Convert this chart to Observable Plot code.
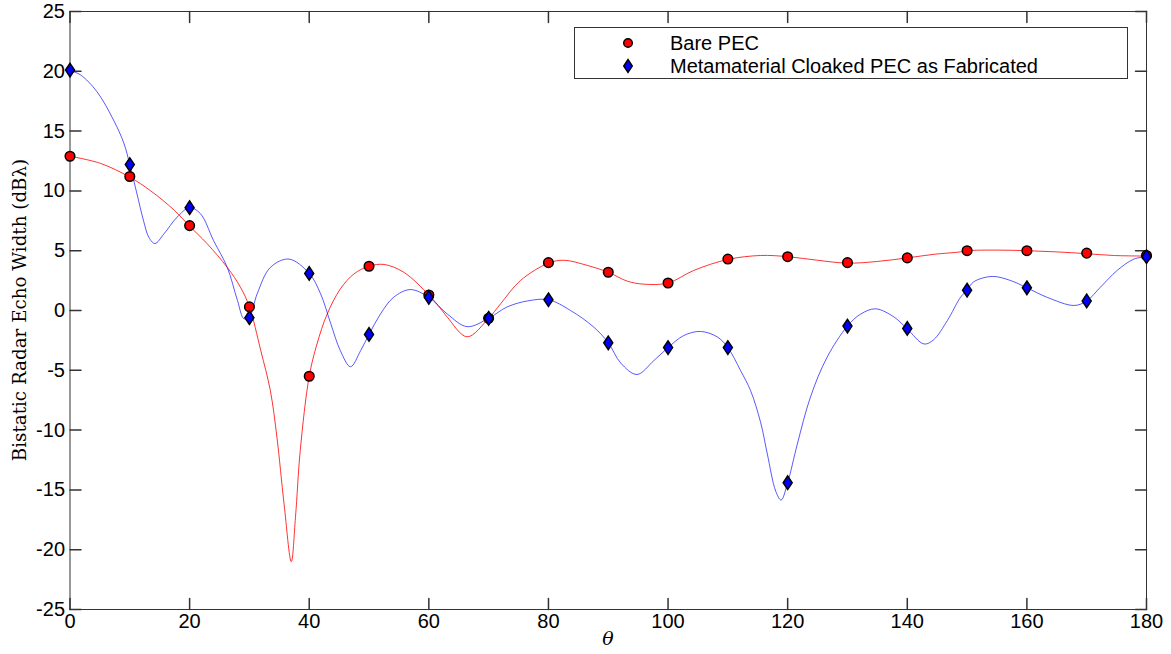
<!DOCTYPE html>
<html><head><meta charset="utf-8">
<script src="https://cdn.jsdelivr.net/npm/d3@7"></script>
<script src="https://cdn.jsdelivr.net/npm/@observablehq/plot@0.6"></script>
<style>
body{margin:0;background:#fff;}
#wrap{position:relative;width:1171px;height:654px;overflow:hidden;}
#ylab{position:absolute;left:19px;top:310px;transform:translate(-50%,-50%) rotate(-90deg);white-space:nowrap;font-family:"DejaVu Serif",serif;font-size:18.3px;color:#000;}
#xlab{position:absolute;left:608px;top:638px;transform:translate(-50%,-50%);font-family:"DejaVu Serif",serif;font-style:italic;font-size:19px;color:#000;}
#legend{position:absolute;left:574px;top:27px;width:552px;height:50px;border:1px solid #333;background:#fff;font-family:"Liberation Sans",Arial,sans-serif;font-size:20px;}
.row{position:absolute;left:0;height:22px;display:flex;align-items:center;}
.row svg{position:absolute;left:45px;}
.row span{position:absolute;left:95px;white-space:nowrap;line-height:22px;}
</style></head><body><div id="wrap"></div>
<script>
// Marker data (every 10 degrees)
const markerTheta = [0,10,20,30,40,50,60,70,80,90,100,110,120,130,140,150,160,170,180];
const bareMarkers = [12.9,11.2,7.1,0.3,-5.5,3.7,1.3,-0.65,4.0,3.2,2.3,4.3,4.5,4.0,4.4,5.0,5.0,4.8,4.6];
const cloakMarkers = [20.1,12.2,8.6,-0.6,3.1,-2.0,1.1,-0.65,0.9,-2.7,-3.1,-3.1,-14.4,-1.3,-1.5,1.7,1.9,0.8,4.5];

// Continuous curves
const bareCurveTheta = [0,5.1,10,13.5,17.4,20,22.9,26.3,28.5,30,31.9,33.5,34.6,35.8,37.0,37.7,38.5,40,41.3,43.0,45.2,47.5,50,52.5,55.8,60,62,63.1,66.4,70,72,75.3,80,82.6,86.5,90,93.2,96,100,104.3,110,115.5,120,125,130,135,140,144.5,148.9,150,155,160,165,170,174.5,180];
const bareCurveValue = [12.9,12.3,11.15,10.0,8.4,7.05,5.6,3.6,1.95,0.3,-3.35,-6.7,-10.6,-16.2,-21.0,-17.3,-11.7,-5.5,-2.8,-0.3,1.8,3.07,3.7,3.85,3.2,1.3,0.14,-0.56,-2.2,-0.65,0.56,2.5,3.96,4.2,3.77,3.2,2.45,2.2,2.3,3.35,4.27,4.6,4.5,4.2,3.96,4.1,4.4,4.7,4.9,5.0,5.05,5.0,4.9,4.75,4.6,4.55];

const cloakCurveTheta = [0,1.75,4.5,7.3,9.0,10,11.2,12.3,13.2,14.2,15.7,17.9,20,21.8,24.0,26.3,28.0,29.1,30,31.3,33.5,36.6,40,41.9,43.6,45.2,46.9,48.6,50,51.9,54.1,56.9,60,63.1,66.4,70,73.1,76.5,80,83.7,87.6,90,92.1,94.8,97.6,100,102.6,105.4,108.2,110,112.1,113.8,115.5,116.6,118.0,118.9,120,121.6,123.8,126.6,130,132.2,134.7,137.8,140,142.8,144.4,146.7,148.9,150,151.1,154.2,157.3,160,163.4,167.9,170,172.3,175.1,177.9,180];
const cloakCurveValue = [20.05,19.7,18.3,15.9,14.0,12.2,9.75,7.5,6.1,5.6,6.4,7.8,8.6,8.1,5.85,3.6,0.84,-0.7,-0.55,1.4,3.6,4.3,3.1,1.4,-1.1,-3.35,-4.7,-3.35,-2.0,-0.3,1.1,1.75,1.1,-0.3,-1.35,-0.65,0.3,0.8,0.9,0.0,-1.4,-2.7,-4.4,-5.35,-4.2,-3.1,-2.1,-1.75,-2.2,-3.1,-5.0,-6.7,-9.4,-12.0,-15.1,-15.85,-14.4,-11.2,-7.25,-3.9,-1.3,-0.3,0.14,-0.55,-1.55,-2.8,-2.45,-0.84,1.1,1.7,2.4,2.85,2.5,1.9,1.1,0.42,0.8,1.95,3.35,4.3,4.5];

const xTicks = [0,20,40,60,80,100,120,140,160,180];
const yTicks = [-25,-20,-15,-10,-5,0,5,10,15,20,25];
const seriesNames = ["Bare PEC","Metamaterial Cloaked PEC as Fabricated"];
const seriesColors = ["#ff0000","#0000ff"];
const yLabel = "Bistatic Radar Echo Width (dB\u03bb)";
const xLabel = "\u03b8";

const bareCurve = bareCurveTheta.map((t,i)=>({t, v: bareCurveValue[i]}));
const cloakCurve = cloakCurveTheta.map((t,i)=>({t, v: cloakCurveValue[i]}));
const bareDots = markerTheta.map((t,i)=>({t, v: bareMarkers[i]}));
const cloakDots = markerTheta.map((t,i)=>({t, v: cloakMarkers[i]}));

const tickShape = {draw(ctx, l){ ctx.moveTo(0,0); ctx.lineTo(0,-l); }};
const tallDiamond = {draw(ctx, size){ const r = Math.sqrt(size/Math.PI); ctx.moveTo(0,-1.35*r); ctx.lineTo(0.9*r,0); ctx.lineTo(0,1.35*r); ctx.lineTo(-0.9*r,0); ctx.closePath(); }};
const fmt = d => String(d);
const tickColor = "#333";

const chart = Plot.plot({
  width: 1171, height: 654,
  marginLeft: 69.5, marginRight: 25, marginTop: 11, marginBottom: 45,
  style: {fontFamily: "'Liberation Sans', Arial, sans-serif", fontSize: "20px", background: "#fff", color: "#000"},
  x: {domain: [0,180]},
  y: {domain: [-25,25]},
  marks: [
    Plot.frame({stroke: "#333", strokeWidth: 1}),
    Plot.vector(xTicks, {x: d=>d, frameAnchor: "bottom", length: 11, rotate: 0, anchor: "start", shape: tickShape, stroke: tickColor}),
    Plot.vector(xTicks, {x: d=>d, frameAnchor: "top", length: 11, rotate: 180, anchor: "start", shape: tickShape, stroke: tickColor}),
    Plot.vector(yTicks, {y: d=>d, frameAnchor: "left", length: 11, rotate: 90, anchor: "start", shape: tickShape, stroke: tickColor}),
    Plot.vector(yTicks, {y: d=>d, frameAnchor: "right", length: 11, rotate: -90, anchor: "start", shape: tickShape, stroke: tickColor}),
    Plot.axisX({ticks: xTicks, tickSize: 0, tickPadding: 4, tickFormat: fmt, label: null, fontSize: 20}),
    Plot.axisY({ticks: yTicks, tickSize: 0, tickPadding: 5, tickFormat: fmt, label: null, fontSize: 20}),
    Plot.line(bareCurve, {x: "t", y: "v", curve: "catmull-rom", stroke: seriesColors[0], strokeWidth: 1, strokeOpacity: 0.8}),
    Plot.line(cloakCurve, {x: "t", y: "v", curve: "catmull-rom", stroke: seriesColors[1], strokeWidth: 1, strokeOpacity: 0.65}),
    Plot.dot(bareDots, {x: "t", y: "v", r: 4.8, fill: seriesColors[0], stroke: "#000", strokeWidth: 1.5, symbol: "circle"}),
    Plot.dot(cloakDots, {x: "t", y: "v", r: 5, fill: seriesColors[1], stroke: "#000", strokeWidth: 1.5, symbol: tallDiamond})
  ]
});

const wrap = document.getElementById("wrap");
wrap.appendChild(chart);

const yl = document.createElement("div"); yl.id = "ylab"; yl.textContent = yLabel; wrap.appendChild(yl);
const xl = document.createElement("div"); xl.id = "xlab"; xl.textContent = xLabel; wrap.appendChild(xl);

const lg = document.createElement("div"); lg.id = "legend";
const symbols = [
  `<svg width="16" height="20" viewBox="-8 -10 16 20"><circle r="4.3" fill="${seriesColors[0]}" stroke="#000" stroke-width="1.4"/></svg>`,
  `<svg width="16" height="20" viewBox="-8 -10 16 20"><path d="M0,-6.5L4.3,0L0,6.5L-4.3,0Z" fill="${seriesColors[1]}" stroke="#000" stroke-width="1.4"/></svg>`
];
seriesNames.forEach((name, i) => {
  const row = document.createElement("div");
  row.className = "row";
  row.style.top = (i === 0 ? 4 : 27) + "px";
  row.innerHTML = symbols[i] + `<span>${name}</span>`;
  lg.appendChild(row);
});
wrap.appendChild(lg);
</script>
</body></html>
